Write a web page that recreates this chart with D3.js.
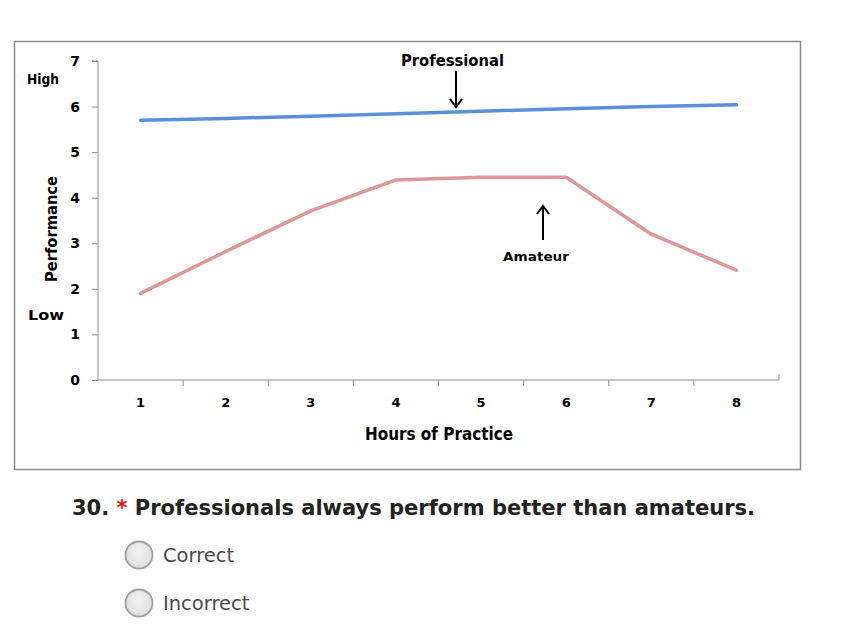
<!DOCTYPE html>
<html>
<head>
<meta charset="utf-8">
<script src="https://cdn.jsdelivr.net/npm/d3@7"></script>
<style>
  body { margin: 0; background: #fff; }
  svg { display: block; }
</style>
</head>
<body>
<div id="chart"></div>
<script>
const hours = ["1", "2", "3", "4", "5", "6", "7", "8"];
const professional = [5.7, 5.74, 5.79, 5.84, 5.9, 5.95, 6.0, 6.04];
const amateur = [1.9, 2.82, 3.71, 4.39, 4.45, 4.45, 3.2, 2.41];
const yTicks = [0, 1, 2, 3, 4, 5, 6, 7];
const answers = ["Correct", "Incorrect"];

const W = 867, H = 628;
const margin = { top: 61, right: 89, bottom: 248, left: 98 };
const width = 779 - margin.left;
const height = 380 - margin.top;

const svg = d3.select("#chart").append("svg")
    .attr("width", W)
    .attr("height", H);

// grey frame of the chart picture
svg.append("rect")
    .attr("x", 14.5).attr("y", 41.5)
    .attr("width", 786).attr("height", 428)
    .attr("fill", "#fff")
    .attr("stroke", "#8c8c8c")
    .attr("stroke-width", 1.5);

const g = svg.append("g")
    .attr("transform", `translate(${margin.left},${margin.top})`);

const x = d3.scaleBand().domain(hours).range([0, width]);
const y = d3.scaleLinear().domain([0, 7]).range([height, 0]);

const chartFont = "'DejaVu Sans', Verdana, sans-serif";

// squeezed bold label, like the blurry excel export
const label = (sel, txt, size, len) => sel
    .attr("font-family", chartFont)
    .attr("font-weight", "bold")
    .attr("font-size", size)
    .attr("textLength", len)
    .attr("lengthAdjust", "spacingAndGlyphs")
    .text(txt);

// y axis
const yAxis = g.append("g")
    .call(d3.axisLeft(y).tickValues(yTicks).tickSize(6).tickPadding(12).tickFormat(d3.format("d")));
yAxis.select(".domain").attr("stroke", "#8c8c8c").attr("d", `M-6,0H0V${height}`);
yAxis.selectAll(".tick line").attr("stroke", "#8c8c8c");
yAxis.selectAll(".tick text")
    .attr("font-family", chartFont)
    .attr("font-weight", "bold")
    .attr("font-size", 14)
    .attr("fill", "#000");

// x axis
const xAxis = g.append("g")
    .attr("transform", `translate(0,${height})`)
    .call(d3.axisBottom(x).tickSize(0).tickPadding(18));
xAxis.select(".domain").attr("stroke", "#8c8c8c").attr("d", `M0,0H${width}V-6`);
xAxis.selectAll(".tick text")
    .attr("font-family", chartFont)
    .attr("font-weight", "bold")
    .attr("font-size", 13)
    .attr("fill", "#000");
// tick marks between categories
g.append("g").selectAll("line")
    .data(hours.slice(1))
    .join("line")
    .attr("x1", d => x(d)).attr("x2", d => x(d))
    .attr("y1", height).attr("y2", height + 6)
    .attr("stroke", "#8c8c8c");

// lines
const line = d3.line()
    .x((d, i) => x(hours[i]) + x.bandwidth() / 2)
    .y(d => y(d));

g.append("path")
    .datum(professional)
    .attr("fill", "none")
    .attr("stroke", "#5b8fdc")
    .attr("stroke-width", 3.5)
    .attr("stroke-linecap", "round")
    .attr("d", line);

g.append("path")
    .datum(amateur)
    .attr("fill", "none")
    .attr("stroke", "#dc9898")
    .attr("stroke-width", 3.5)
    .attr("stroke-linecap", "round")
    .attr("stroke-linejoin", "round")
    .attr("d", line);

// axis titles and side labels
svg.append("text").attr("x", 365).attr("y", 440).call(label, "Hours of Practice", 17, 148);
svg.append("text").attr("transform", "translate(57,282) rotate(-90)").call(label, "Performance", 15, 106);
svg.append("text").attr("x", 27).attr("y", 84).call(label, "High", 14, 32);
svg.append("text").attr("x", 28).attr("y", 320).call(label, "Low", 14, 36);

// annotations with arrows
svg.append("text").attr("x", 401).attr("y", 66).call(label, "Professional", 15, 103);
svg.append("text").attr("x", 503).attr("y", 261).call(label, "Amateur", 13, 66);

const arrow = (x0, y0, y1) => {
    const dir = y1 > y0 ? 1 : -1;
    svg.append("path")
        .attr("d", `M${x0},${y0}V${y1}M${x0 - 6},${y1 - dir * 8}L${x0},${y1}L${x0 + 6},${y1 - dir * 8}`)
        .attr("fill", "none")
        .attr("stroke", "#000")
        .attr("stroke-width", 2);
};
arrow(456, 71, 107);
arrow(543, 240, 206);

// question below the chart
const q = svg.append("text")
    .attr("x", 72).attr("y", 515)
    .attr("font-family", "'DejaVu Sans', Verdana, sans-serif")
    .attr("font-weight", "bold")
    .attr("font-size", 21)
    .attr("fill", "#222")
    .attr("textLength", 683)
    .attr("lengthAdjust", "spacingAndGlyphs");
q.append("tspan").text("30. ");
q.append("tspan").attr("fill", "#e8191b").text("* ");
q.append("tspan").text("Professionals always perform better than amateurs.");

const defs = svg.append("defs");
const grad = defs.append("radialGradient").attr("id", "radio")
    .attr("cx", "50%").attr("cy", "40%").attr("r", "60%");
grad.append("stop").attr("offset", "0%").attr("stop-color", "#f4f4f4");
grad.append("stop").attr("offset", "100%").attr("stop-color", "#dcdcdc");

const opts = svg.append("g").selectAll("g")
    .data(answers)
    .join("g")
    .attr("transform", (d, i) => `translate(139,${555 + i * 48})`);
opts.append("circle")
    .attr("r", 13.5)
    .attr("fill", "url(#radio)")
    .attr("stroke", "#a0a0a0")
    .attr("stroke-width", 1.8);
opts.append("text")
    .attr("x", 24).attr("y", 7)
    .attr("font-family", "'DejaVu Sans', Verdana, sans-serif")
    .attr("font-size", 19.5)
    .attr("fill", "#4a4a4a")
    .text(d => d);
</script>
</body>
</html>
